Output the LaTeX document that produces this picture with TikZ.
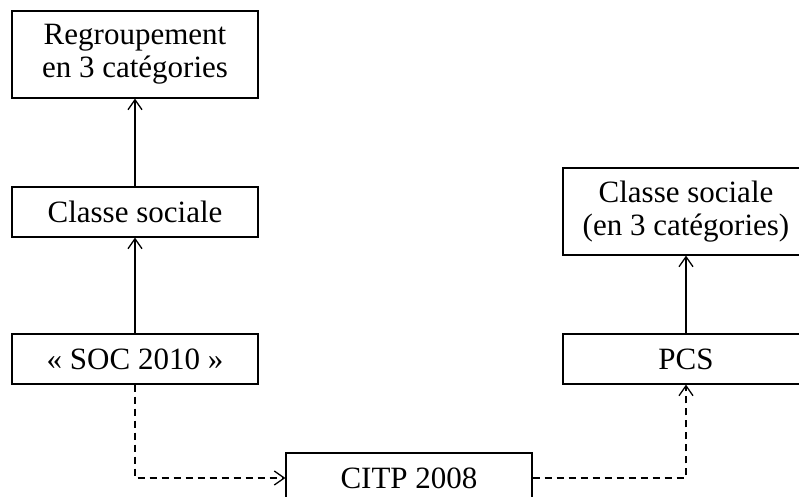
\documentclass[tikz,border=0pt]{standalone}
\usepackage{fontspec}
\setmainfont{Liberation Serif}
\usetikzlibrary{arrows.meta}
\begin{document}
\begin{tikzpicture}[x=1pt,y=-1pt,
  box/.style={draw,line width=1.2pt,minimum width=246pt,inner sep=0pt,align=center,
    font=\fontsize{31}{33}\selectfont},
  small/.style={box,minimum height=50pt},
  tall/.style={box,minimum height=87pt},
  conn/.style={line width=1.3pt,-{Straight Barb[length=10pt,width=14pt,line width=1.3pt]}},
  dconn/.style={conn,dash pattern=on 7pt off 5pt}]
\useasboundingbox (0,0) rectangle (799,497);
\node[tall]  (A) at (135,54.5) {Regroupement\\en 3 catégories};
\node[small] (B) at (135,212) {Classe sociale};
\node[small] (C) at (135,359) {« SOC 2010 »};
\node[small] (D) at (409,478) {CITP 2008};
\node[tall]  (E) at (686,211.5) {Classe sociale\\(en 3 catégories)};
\node[small] (F) at (686,359) {PCS};
\draw[conn] (B.north) -- (A.south);
\draw[conn] (C.north) -- (B.south);
\draw[conn] (F.north) -- (E.south);
\draw[dconn] (C.south) |- (D.west);
\draw[dconn] (D.east) -| (F.south);
\end{tikzpicture}
\end{document}
